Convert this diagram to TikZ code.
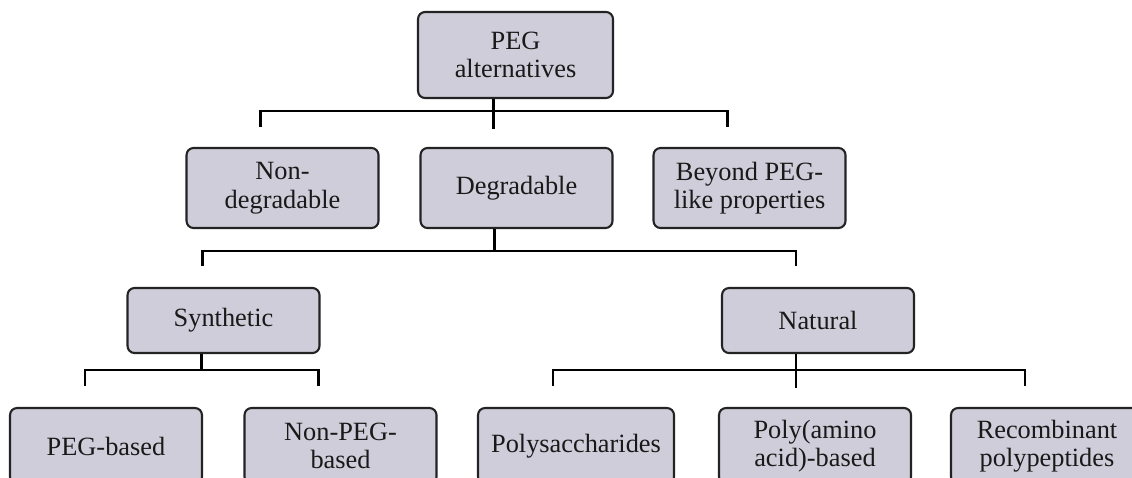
\documentclass[tikz,border=0pt]{standalone}
\usepackage{fontspec}
\setmainfont{Liberation Serif}
\usetikzlibrary{calc}

\definecolor{boxfill}{RGB}{206,205,217}
\definecolor{boxline}{RGB}{35,35,35}

\begin{document}
\begin{tikzpicture}[
    x=0.02cm, y=-0.02cm,
    font=\fontsize{15}{16.2}\selectfont,
    box/.style={draw=boxline, fill=boxfill, line width=1.2pt, rounded corners=4pt,
        align=center, inner sep=0pt, text=black!90, minimum width=3.84cm},
    conn/.style={draw=black, line width=1.3pt}
]

    % keeps the page size of the reference, cuts the lowest row
    \clip (0,0) rectangle (1132,477);

    % Level 1
    \node[box, minimum width=3.9cm, minimum height=1.72cm] (root) at (515.5,55) {PEG\\alternatives};

    % Level 2
    \node[box, minimum height=1.6cm] (nondeg) at (282.5,188) {Non-\\degradable};
    \node[box, minimum height=1.6cm] (deg)    at (516.5,188) {Degradable};
    \node[box, minimum height=1.6cm] (beyond) at (749.5,188) {Beyond PEG-\\like properties};

    % Level 3
    \node[box, minimum height=1.3cm] (synth)   at (223.5,320.5) {Synthetic};
    \node[box, minimum height=1.3cm] (natural) at (818,320.5)   {Natural};

    % Level 4
    \node[box, minimum height=1.52cm] (pegb)   at (106,446)   {PEG-based};
    \node[box, minimum height=1.52cm] (nonpeg) at (340.5,446) {Non-PEG-\\based};
    \node[box, minimum height=1.52cm, minimum width=3.92cm] (polys) at (576,446) {Polysaccharides};
    \node[box, minimum height=1.52cm] (polyaa) at (815,446)   {Poly(amino\\acid)-based};
    \node[box, minimum height=1.52cm] (recomb) at (1047,446)  {Recombinant\\polypeptides};

    % Bus points (the lines sit a bit left of the box centres)
    \coordinate (bus1) at ($(root.south)+(-22,12)$);
    \coordinate (bus2) at ($(deg.south)+(-22,22)$);
    \coordinate (bus3) at ($(synth.south)+(-22,16)$);
    \coordinate (bus4) at ($(natural.south)+(-22,16)$);

    % PEG alternatives -> level 2
    \draw[conn] ($(root.south)+(-22,0)$) -- ($(root.south)+(-22,30)$);
    \draw[conn] ($(nondeg.north)+(-22,-20)$) |- (bus1) -| ($(beyond.north)+(-22,-20)$);

    % Degradable -> Synthetic / Natural
    \draw[conn] ($(deg.south)+(-22,0)$) -- (bus2);
    \draw[conn] ($(synth.north)+(-21,-21)$) |- (bus2) -| ($(natural.north)+(-22,-21)$);

    % Synthetic -> level 4
    \draw[conn] ($(synth.south)+(-22,0)$) -- (bus3);
    \draw[conn] ($(pegb.north)+(-21,-21)$) |- (bus3) -| ($(nonpeg.north)+(-22,-21)$);

    % Natural -> level 4
    \draw[conn] ($(natural.south)+(-22,0)$) -- (bus4) -- ++(0,18);
    \draw[conn] ($(polys.north)+(-23,-21)$) |- (bus4) -| ($(recomb.north)+(-22,-21)$);

\end{tikzpicture}
\end{document}
